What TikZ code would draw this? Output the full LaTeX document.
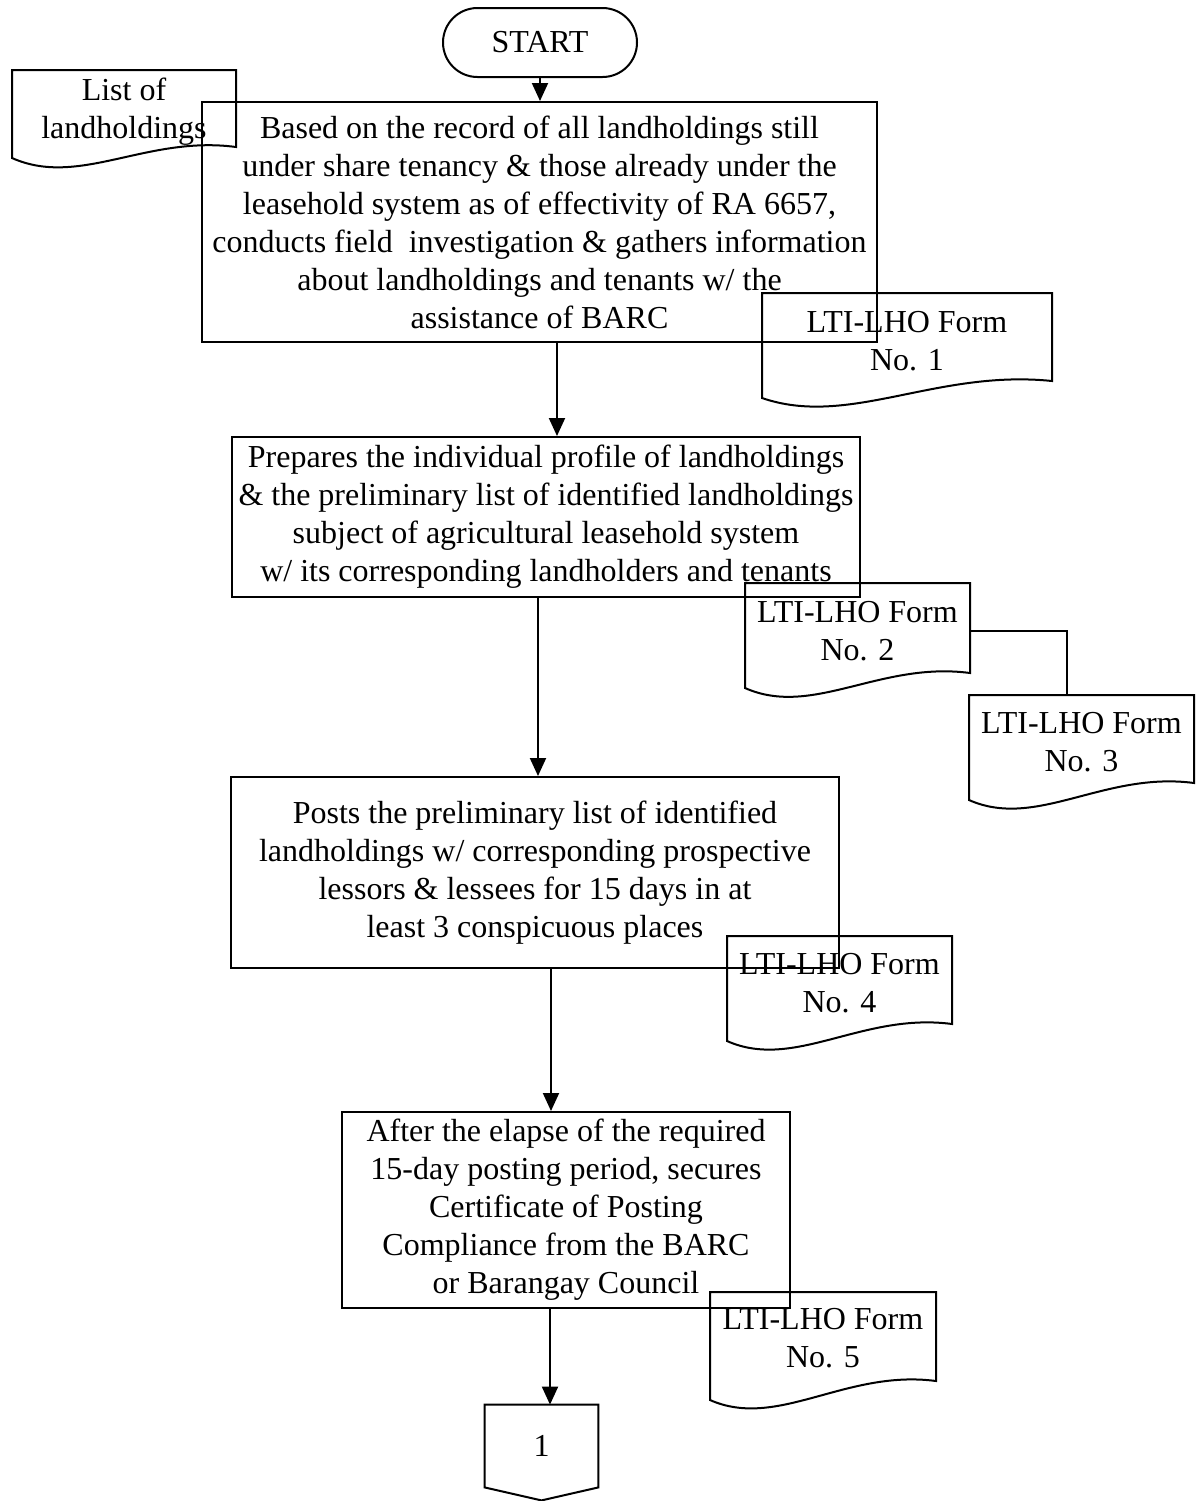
\documentclass[tikz,border=0pt]{standalone}
\usepackage{fontspec}
\setmainfont{Liberation Serif}
\usetikzlibrary{arrows.meta,shapes.misc}

% Document symbol: invisible text node plus outline with a wavy bottom.
% #1 name, #2 left x, #3 top y, #4 right x, #5 bottom-left y, #6 bottom-right y, #7 text, #8 text centre y
\newcommand\docnode[8]{%
  \pgfmathsetmacro\dcw{(#4-#2)*0.5}%
  \pgfmathsetmacro\dch{#8-#3}%
  \node[doctext, minimum width=\dcw pt, minimum height=\dch pt] (#1) at ({(#2+#4)/2},#8) {#7};
  \draw[line] (#2,#3) -- (#4,#3) -- (#4,#6)
    .. controls ({#2+0.6*(#4-#2)},{#6-12}) and ({#2+0.3*(#4-#2)},{#5+30}) .. (#2,#5) -- cycle;}

\begin{document}
\begin{tikzpicture}[x=0.5pt,y=-0.5pt,
  line/.style={line width=1pt},
  txt/.style={font=\fontsize{16}{19}\selectfont, align=center},
  process/.style={line, draw, rectangle, inner sep=0pt, txt},
  terminal/.style={line, draw, rounded rectangle, inner sep=0pt, txt},
  doctext/.style={rectangle, inner sep=0pt, txt},
  flow/.style={line, -{Triangle[length=9pt,width=8pt]}},
  link/.style={line}]
\useasboundingbox (0,0) rectangle (1196,1501);

% terminal
\node[terminal, minimum width=97pt, minimum height=34.5pt] (start) at (540,42.5) {START};

% process steps
\node[process, minimum width=337.5pt, minimum height=120pt] (box1) at (539.5,222)
  {Based on the record of all landholdings still\\
   under share tenancy \& those already under the\\
   leasehold system as of effectivity of RA 6657,\\
   conducts field\ \ investigation \& gathers information\\
   about landholdings and tenants w/ the\\
   assistance of BARC};
\node[process, minimum width=314pt, minimum height=80pt] (box2) at (546,517)
  {Prepares the individual profile of landholdings\\
   \& the preliminary list of identified landholdings\\
   subject of agricultural leasehold system\\
   w/ its corresponding landholders and tenants};
\node[process, minimum width=304pt, minimum height=95.5pt] (box3) at (535,872.5)
  {Posts the preliminary list of identified\\
   landholdings w/ corresponding prospective\\
   lessors \& lessees for 15 days in at\\
   least 3 conspicuous places};
\node[process, minimum width=224pt, minimum height=98pt] (box4) at (566,1210)
  {After the elapse of the required\\
   15-day posting period, secures\\
   Certificate of Posting\\
   Compliance from the BARC\\
   or Barangay Council};

% documents
\docnode{list}{12}{70}{236}{158}{147}{List of\\landholdings}{112}
\docnode{form1}{762}{293}{1052}{398}{381}{LTI-LHO Form\\No. 1}{341}
\docnode{form2}{745}{583}{970}{688}{673}{LTI-LHO Form\\No. 2}{631}
\docnode{form3}{969}{695}{1194}{800}{783}{LTI-LHO Form\\No. 3}{742}
\docnode{form4}{727}{936}{952}{1041}{1024}{LTI-LHO Form\\No. 4}{983}
\docnode{form5}{710}{1292}{936}{1400}{1381}{LTI-LHO Form\\No. 5}{1338}

% off-page connector
\node[doctext, minimum width=56.5pt, minimum height=41pt] (conn) at (541.5,1446) {1};
\draw[line] (conn.south west) -- (conn.north west) -- (conn.north east)
  -- (conn.south east) -- ([yshift=-6.5pt]conn.south) -- cycle;

% flow lanes
\coordinate (l1) at (557,0);
\coordinate (l2) at (538,0);
\coordinate (l3) at (551,0);
\coordinate (l4) at (550,0);

\draw[flow] (start.south) -- (start.south |- box1.north);
\draw[flow] (box1.south -| l1) -- (box2.north -| l1);
\draw[flow] (box2.south -| l2) -- (box3.north -| l2);
\draw[flow] (box3.south -| l3) -- (box4.north -| l3);
\draw[flow] (box4.south -| l4) -- (conn.north -| l4);
\draw[link] (form2.east) -| ([xshift=-7.25pt]form3.north);
\end{tikzpicture}
\end{document}
